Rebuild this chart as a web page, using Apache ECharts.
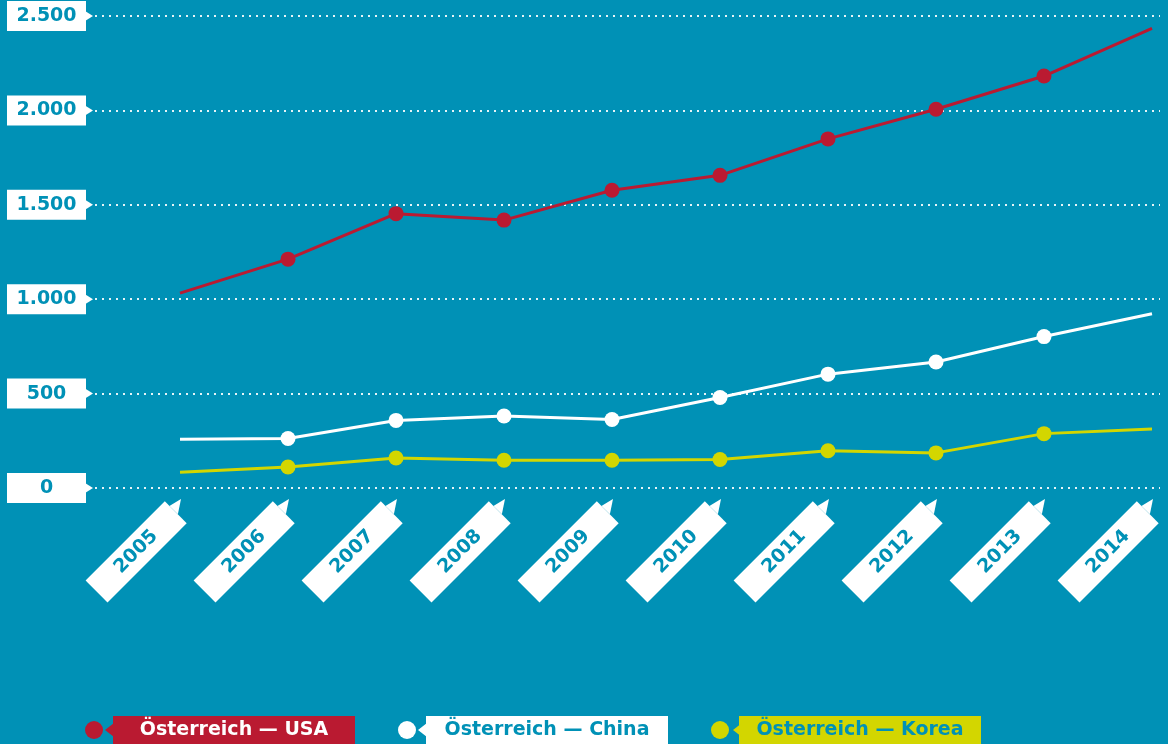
<!DOCTYPE html>
<html>
<head>
<meta charset="utf-8">
<script src="https://cdn.jsdelivr.net/npm/echarts@6/dist/echarts.min.js"></script>
<style>
  html, body { margin: 0; padding: 0; background: #0091B6; }
  #chart { width: 1168px; height: 744px; }
</style>
</head>
<body>
<div id="chart"></div>
<script>
// ---- data ----
const years = ['2005', '2006', '2007', '2008', '2009', '2010', '2011', '2012', '2013', '2014'];
const usa   = [1032, 1212, 1453, 1419, 1577, 1656, 1849, 2006, 2182, 2434];
const china = [258, 262, 358, 381, 363, 479, 603, 667, 802, 923];
const korea = [84, 111, 159, 147, 147, 151, 197, 186, 288, 312];
const seriesNames = ['Österreich — USA', 'Österreich — China', 'Österreich — Korea'];
const yTicks  = [0, 500, 1000, 1500, 2000, 2500];
const yLabels = ['0', '500', '1.000', '1.500', '2.000', '2.500'];

// ---- style ----
const BG = '#0091B6';
const RED = '#BA1A31';
const WHITE = '#FFFFFF';
const YELLOW = '#D3D600';
const FONT = "'DejaVu Sans', sans-serif";

const chart = echarts.init(document.getElementById('chart'), null, { renderer: 'canvas' });

function withEnds(arr) {
  return arr.map((v, i) => (i === 0 || i === arr.length - 1) ? { value: v, symbol: 'none' } : v);
}

const colors = [RED, WHITE, YELLOW];
const richKeys = ['usa', 'china', 'korea'];

const option = {
  backgroundColor: BG,
  animation: false,
  grid: [
    { left: 180, right: 16, top: 16, bottom: 256 },
    { left: 95, right: 8, top: 16, bottom: 256 }
  ],
  xAxis: [
    {
      type: 'category', gridIndex: 0, data: years, boundaryGap: false,
      axisLine: { show: false }, axisTick: { show: false }, splitLine: { show: false },
      axisLabel: {
        interval: 0, rotate: 45, margin: 20, hideOverlap: false,
        formatter: v => '{t|' + v + '}{s|}',
        rich: {
          t: { width: 112, height: 31, lineHeight: 31, backgroundColor: WHITE, color: BG, align: 'center',
               fontSize: 19, fontWeight: 'bold', fontFamily: FONT },
          s: { width: 6 }
        }
      }
    },
    { type: 'value', gridIndex: 1, show: false, min: 0, max: 1 }
  ],
  yAxis: [
    { type: 'value', gridIndex: 0, min: 0, max: 2500, interval: 500, show: false, splitLine: { show: false } },
    {
      type: 'value', gridIndex: 1, min: 0, max: 2500, interval: 500,
      axisLine: { show: false }, axisTick: { show: false },
      splitLine: { show: true, lineStyle: { color: 'rgba(255,255,255,0.9)', width: 2, type: [2, 5] } },
      axisLabel: {
        margin: 9,
        formatter: v => '{b|' + yLabels[yTicks.indexOf(v)] + '}',
        rich: {
          b: { width: 79, height: 30, lineHeight: 30, backgroundColor: WHITE, color: BG, align: 'center',
               fontSize: 19, fontWeight: 'bold', fontFamily: FONT }
        }
      }
    }
  ],
  legend: {
    left: 85, top: 716, padding: 0, itemGap: 43, itemWidth: 18, itemHeight: 18,
    icon: 'circle', selectedMode: false,
    data: seriesNames,
    formatter: name => '{sp|}{' + richKeys[seriesNames.indexOf(name)] + '|' + name + '}',
    textStyle: {
      rich: {
        sp: { width: 5 },
        usa:   { width: 242, height: 28, lineHeight: 28, backgroundColor: RED, color: WHITE, align: 'center',
                 fontSize: 19, fontWeight: 'bold', fontFamily: FONT },
        china: { width: 242, height: 28, lineHeight: 28, backgroundColor: WHITE, color: BG, align: 'center',
                 fontSize: 19, fontWeight: 'bold', fontFamily: FONT },
        korea: { width: 242, height: 28, lineHeight: 28, backgroundColor: YELLOW, color: BG, align: 'center',
                 fontSize: 19, fontWeight: 'bold', fontFamily: FONT }
      }
    }
  },
  series: [usa, china, korea].map((d, i) => ({
    name: seriesNames[i], type: 'line', xAxisIndex: 0, yAxisIndex: 0,
    data: withEnds(d), symbol: 'circle', symbolSize: 15, showAllSymbol: true,
    lineStyle: { color: colors[i], width: 3 },
    itemStyle: { color: colors[i] },
    emphasis: { disabled: true },
    z: 3 + (2 - i)
  }))
};

chart.setOption(option);

// decorative pointers computed from the axes
const graphics = [];
yTicks.forEach(v => {
  const y = chart.convertToPixel({ yAxisIndex: 1 }, v);
  const x0 = 95 - 9;
  graphics.push({ type: 'polygon', shape: { points: [[x0 - 1, y - 5], [x0 + 7, y], [x0 - 1, y + 5]] },
                  style: { fill: WHITE }, silent: true, z: 10 });
});
const axisY = chart.convertToPixel({ yAxisIndex: 0 }, 0);
const k = Math.SQRT1_2;
years.forEach((yr, i) => {
  const px = chart.convertToPixel({ xAxisIndex: 0 }, i);
  const ex = px - 6 * k, ey = axisY + 20 + 6 * k;
  graphics.push({ type: 'polygon', shape: { points: [
      [ex - 9 * k, ey - 9 * k], [ex + 3 * k, ey + 3 * k], [px + 1, axisY + 11]
    ] }, style: { fill: WHITE }, silent: true, z: 10 });
});
// legend pointers
const legendBoxes = [113, 426, 741];
legendBoxes.forEach((bx, i) => {
  graphics.push({ type: 'polygon', shape: { points: [[bx + 1, 723], [bx - 8, 730], [bx + 1, 737]] },
                  style: { fill: colors[i] }, silent: true, z: 10 });
});
chart.setOption({ graphic: graphics });
</script>
</body>
</html>
